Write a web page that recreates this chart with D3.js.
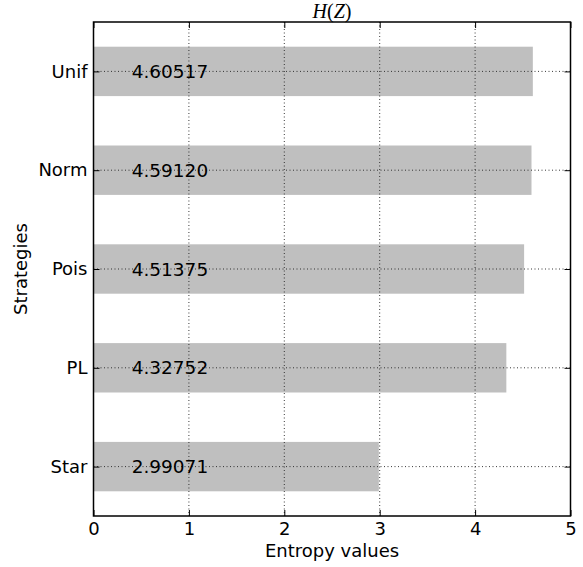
<!DOCTYPE html>
<html>
<head>
<meta charset="utf-8">
<script src="https://cdn.jsdelivr.net/npm/d3@7"></script>
<style>
  html, body { margin: 0; padding: 0; background: #fff; }
  svg { display: block; }
  text { font-family: "DejaVu Sans", sans-serif; fill: #000; }
</style>
</head>
<body>
<svg id="chart" width="583" height="567"></svg>
<script>
// Entropy per sampling strategy
const categories = ["Star", "PL", "Pois", "Norm", "Unif"];
const values = [2.99071, 4.32752, 4.51375, 4.59120, 4.60517];
const xTicks = [0, 1, 2, 3, 4, 5];

const W = 583, H = 567;
const margin = { left: 93.5, right: 12.5, top: 22, bottom: 51 };
const plotL = margin.left, plotR = W - margin.right;
const plotT = margin.top, plotB = H - margin.bottom;

const svg = d3.select("#chart");

const x = d3.scaleLinear().domain([0, 5]).range([plotL, plotR]);
const y = d3.scaleLinear().domain([-0.5, categories.length - 0.5]).range([plotB, plotT]);
const barH = 0.5;

// bars
svg.append("g").selectAll("rect")
  .data(values)
  .join("rect")
  .attr("x", x(0))
  .attr("y", (d, i) => y(i + barH / 2))
  .attr("width", d => x(d) - x(0))
  .attr("height", y(0) - y(barH))
  .attr("fill", "#bfbfbf");

// dotted grid drawn above the bars
const grid = svg.append("g")
  .attr("stroke", "#222")
  .attr("stroke-width", 0.9)
  .attr("stroke-dasharray", "1,2.5");
grid.selectAll("line.gx")
  .data(xTicks.filter(t => t > 0 && t < 5))
  .join("line")
  .attr("x1", d => x(d)).attr("x2", d => x(d))
  .attr("y1", plotT).attr("y2", plotB);
grid.selectAll("line.gy")
  .data(categories.map((c, i) => i))
  .join("line")
  .attr("x1", plotL).attr("x2", plotR)
  .attr("y1", d => y(d)).attr("y2", d => y(d));

// value labels inside bars
svg.append("g").selectAll("text")
  .data(values)
  .join("text")
  .attr("x", x(0.4))
  .attr("y", (d, i) => y(i))
  .attr("dy", "0.36em")
  .attr("font-size", 18.5)
  .text(d => d.toFixed(5));

// axes (ticks inward, mirrored on top/right)
const tickLen = 6;
const xAxisB = d3.axisBottom(x).tickValues(xTicks).tickFormat(d3.format("d"))
  .tickSizeInner(-tickLen).tickSizeOuter(0).tickPadding(6);
const gxB = svg.append("g").attr("transform", `translate(0,${plotB})`).call(xAxisB);
gxB.select(".domain").remove();
gxB.selectAll("text").attr("font-size", 18).attr("font-family", "DejaVu Sans").attr("fill", "#000");
gxB.selectAll("line").attr("stroke", "#000");

const xAxisT = d3.axisTop(x).tickValues(xTicks).tickFormat("")
  .tickSizeInner(-tickLen).tickSizeOuter(0);
const gxT = svg.append("g").attr("transform", `translate(0,${plotT})`).call(xAxisT);
gxT.select(".domain").remove();
gxT.selectAll("line").attr("stroke", "#000");

const yIdx = categories.map((c, i) => i);
const yAxisL = d3.axisLeft(y).tickValues(yIdx).tickFormat(i => categories[i])
  .tickSizeInner(-tickLen).tickSizeOuter(0).tickPadding(6);
const gyL = svg.append("g").attr("transform", `translate(${plotL},0)`).call(yAxisL);
gyL.select(".domain").remove();
gyL.selectAll("text").attr("font-size", 18).attr("font-family", "DejaVu Sans").attr("fill", "#000");
gyL.selectAll("line").attr("stroke", "#000");

const yAxisR = d3.axisRight(y).tickValues(yIdx).tickFormat("")
  .tickSizeInner(-tickLen).tickSizeOuter(0);
const gyR = svg.append("g").attr("transform", `translate(${plotR},0)`).call(yAxisR);
gyR.select(".domain").remove();
gyR.selectAll("line").attr("stroke", "#000");

// frame
svg.append("rect")
  .attr("x", plotL).attr("y", plotT)
  .attr("width", plotR - plotL).attr("height", plotB - plotT)
  .attr("fill", "none").attr("stroke", "#000").attr("stroke-width", 1.5);

// axis titles
svg.append("text")
  .attr("x", (plotL + plotR) / 2).attr("y", 557)
  .attr("text-anchor", "middle").attr("font-size", 18)
  .text("Entropy values");

svg.append("text")
  .attr("transform", `translate(27,${(plotT + plotB) / 2}) rotate(-90)`)
  .attr("text-anchor", "middle").attr("font-size", 18)
  .text("Strategies");

// title H(Z)
const title = svg.append("text")
  .attr("x", (plotL + plotR) / 2).attr("y", 18)
  .attr("text-anchor", "middle")
  .attr("font-size", 20)
  .style("font-family", "'Liberation Serif', serif");
title.append("tspan").attr("font-style", "italic").text("H");
title.append("tspan").text("(");
title.append("tspan").attr("font-style", "italic").text("Z");
title.append("tspan").text(")");
</script>
</body>
</html>
